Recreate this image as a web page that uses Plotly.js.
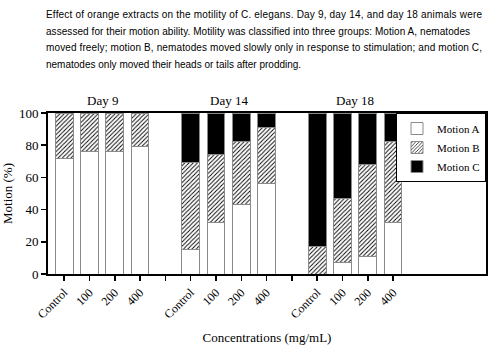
<!DOCTYPE html>
<html>
<head>
<meta charset="utf-8">
<script src="https://cdn.plot.ly/plotly-3.0.1.min.js"></script>
<style>html,body{margin:0;padding:0;background:#fff;}#chart{width:490px;height:346px;}</style>
</head>
<body>
<div id="chart"></div>
<script>
const days = ['Day 9', 'Day 14', 'Day 18'];
const concentrations = ['Control', '100', '200', '400'];
const motionA = [72, 76, 76, 79, 15, 32, 43, 56, 0, 7, 11, 32];
const motionB = [28, 24, 24, 21, 54, 42, 39, 35, 17, 40, 57, 50];
const motionC = [0, 0, 0, 0, 31, 26, 18, 9, 83, 53, 32, 18];
const captionLines = [
  'Effect of orange extracts on the motility of C. elegans. Day 9, day 14, and day 18 animals were',
  'assessed for their motion ability. Motility was classified into three groups: Motion A, nematodes',
  'moved freely; motion B, nematodes moved slowly only in response to stimulation; and motion C,',
  'nematodes only moved their heads or tails after prodding.'
];
const xTitle = 'Concentrations (mg/mL)';
const yTitle = 'Motion (%)';

// category positions: 4 bars per day, one empty slot between days
const xs = [];
days.forEach((d, g) => concentrations.forEach((c, i) => xs.push(g * 5 + i)));
const tickvals = [];
const ticktext = [];
for (let g = 0; g < days.length; g++) {
  concentrations.forEach((c, i) => { tickvals.push(g * 5 + i); ticktext.push(c); });
  if (g < days.length - 1) { tickvals.push(g * 5 + 4); ticktext.push(''); }
}

const serif = 'Liberation Serif, Times New Roman, serif';
const edge = {color: '#8a8a8a', width: 1};
const common = {type: 'bar', x: xs, width: 0.7, hoverinfo: 'skip'};
const traces = [
  Object.assign({}, common, {name: 'Motion A', y: motionA,
    marker: {color: '#ffffff', line: edge}}),
  Object.assign({}, common, {name: 'Motion B', y: motionB,
    marker: {color: '#ffffff', line: edge,
      pattern: {shape: '/', fgcolor: '#000', bgcolor: '#fff', size: 3, solidity: 0.3}}}),
  Object.assign({}, common, {name: 'Motion C', y: motionC,
    marker: {color: '#000000', line: edge}})
];

// justified widths of the first three caption lines in the original (px)
const captionWidths = [436, 424, 436, null];
const annotations = captionLines.map((t, k) => ({
  text: t, xref: 'paper', yref: 'paper', x: -0.007, xanchor: 'left', align: 'left', borderpad: 0,
  y: (274 - (14 + k * 16.6)) / 161.5, yanchor: 'middle', showarrow: false,
  font: {family: 'Liberation Sans, Arial, sans-serif', size: 10, color: '#000'}
}));
days.forEach((d, g) => annotations.push({
  text: d, xref: 'x', yref: 'paper', x: g * 5 + 1.5, y: 1.0, yanchor: 'bottom', yshift: 3,
  showarrow: false, font: {family: serif, size: 13, color: '#000'}
}));

const layout = {
  width: 490, height: 346,
  margin: {l: 48, r: 4, t: 113, b: 72},
  paper_bgcolor: '#fff', plot_bgcolor: '#fff',
  barmode: 'stack',
  showlegend: true,
  legend: {x: 1, xanchor: 'right', y: 1, yanchor: 'top', traceorder: 'normal',
    bordercolor: '#000', borderwidth: 1, bgcolor: '#fff', itemwidth: 30,
    font: {family: serif, size: 11, color: '#000'}},
  xaxis: {range: [-0.64, 16.67], tickvals: tickvals, ticktext: ticktext, tickangle: -45,
    ticks: 'outside', ticklen: 5, tickwidth: 1.5, tickcolor: '#000',
    showline: true, linecolor: '#000', linewidth: 1.8, mirror: true, showgrid: false, zeroline: false,
    tickfont: {family: serif, size: 12, color: '#000'},
    title: {text: xTitle, font: {family: serif, size: 13, color: '#000'}, standoff: 12}},
  yaxis: {range: [0, 100], tickvals: [0, 20, 40, 60, 80, 100],
    ticks: 'outside', ticklen: 5, tickwidth: 1.5, tickcolor: '#000',
    showline: true, linecolor: '#000', linewidth: 1.8, mirror: true, showgrid: false, zeroline: false,
    tickfont: {family: serif, size: 13, color: '#000'},
    title: {text: yTitle, font: {family: serif, size: 13, color: '#000'}, standoff: 6}},
  annotations: annotations
};

Plotly.newPlot('chart', traces, layout, {displayModeBar: false, staticPlot: true}).then(gd => {
  // justify the caption lines to the widths of the original paragraph
  const texts = gd.querySelectorAll('.annotation-text');
  captionLines.forEach((t, k) => {
    const el = texts[k];
    if (el && captionWidths[k]) {
      const natural = el.getComputedTextLength();
      if (natural < captionWidths[k] + 40) {
        el.setAttribute('textLength', captionWidths[k]);
        el.setAttribute('lengthAdjust', 'spacing');
      }
    }
  });
});
</script>
</body>
</html>
